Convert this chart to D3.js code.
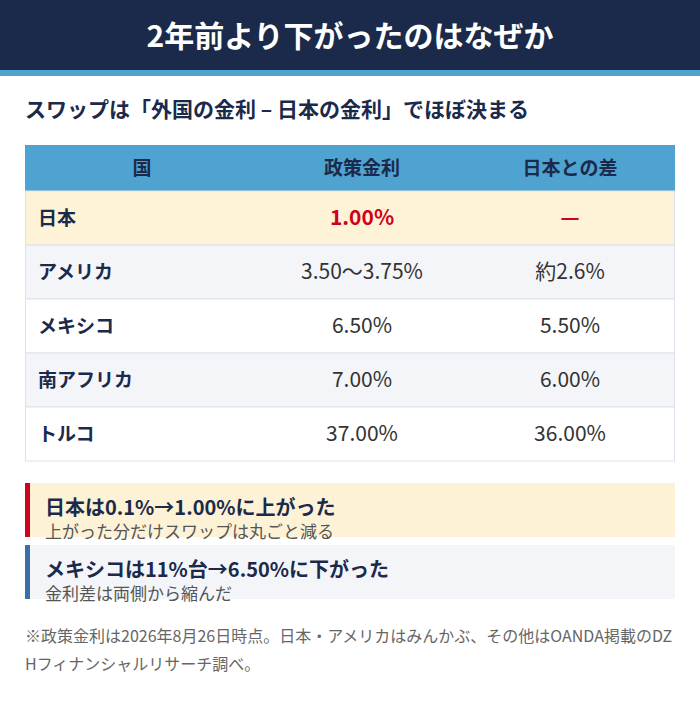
<!DOCTYPE html>
<html><head><meta charset="utf-8">
<script src="https://cdn.jsdelivr.net/npm/d3@7"></script>
<style>body{margin:0;background:#fff}svg{display:block;font-family:"Noto Sans CJK JP","Noto Sans",sans-serif}</style>
</head><body>
<svg id="c" width="700" height="715"></svg>
<script>
const columns = ['国', '政策金利', '日本との差'];
const countries = ['日本', 'アメリカ', 'メキシコ', '南アフリカ', 'トルコ'];
const rates = ['1.00%', '3.50〜3.75%', '6.50%', '7.00%', '37.00%'];
const diffs = ['—', '約2.6%', '5.50%', '6.00%', '36.00%'];
const notes = [
  { title: '日本は0.1%→1.00%に上がった', sub: '上がった分だけスワップは丸ごと減る', bg: '#fdf2d5', bar: '#d0021b' },
  { title: 'メキシコは11%台→6.50%に下がった', sub: '金利差は両側から縮んだ', bg: '#f3f5f9', bar: '#3a6ea5' },
];
const footnote = ['※政策金利は2026年8月26日時点。日本・アメリカはみんかぶ、その他はOANDA掲載のDZ', 'Hフィナンシャルリサーチ調べ。'];

const navy = '#1b2a4a';
const svg = d3.select('#c');

// header
svg.append('rect').attr('width', 700).attr('height', 70).attr('fill', navy);
svg.append('rect').attr('y', 70).attr('width', 700).attr('height', 6).attr('fill', '#4fa3d1');
svg.append('text').attr('x', 350).attr('y', 47).attr('text-anchor', 'middle')
  .attr('fill', '#fff').attr('font-size', 30).attr('font-weight', 700).text('2年前より下がったのはなぜか');
svg.append('text').attr('x', 25).attr('y', 117).attr('fill', navy)
  .attr('font-size', 21).attr('font-weight', 700).text('スワップは「外国の金利 – 日本の金利」でほぼ決まる');

// table
const x0 = 25, x1 = 675;
const colX = d3.scaleOrdinal().domain(columns).range([142, 362, 570]);
const rowY = d3.scaleBand().domain(d3.range(countries.length)).range([191, 461]);

svg.append('rect').attr('x', x0).attr('y', 145).attr('width', x1 - x0).attr('height', 46).attr('fill', '#4fa3d1');
svg.selectAll('.th').data(columns).join('text')
  .attr('x', d => colX(d)).attr('y', 175).attr('text-anchor', 'middle')
  .attr('fill', navy).attr('font-size', 19).attr('font-weight', 700).text(d => d);

const rows = svg.selectAll('.row').data(countries).join('g')
  .attr('transform', (d, i) => `translate(0,${rowY(i)})`);
rows.append('rect').attr('x', x0 + 0.5).attr('width', x1 - x0 - 1).attr('height', rowY.bandwidth())
  .attr('fill', (d, i) => i === 0 ? '#fef3d6' : (i % 2 ? '#f3f5f9' : '#fff'))
  .attr('stroke', '#dde2ea');
const mid = rowY.bandwidth() / 2 + 7;
rows.append('text').attr('x', 38).attr('y', mid).attr('fill', navy)
  .attr('font-size', 19).attr('font-weight', 700).text(d => d);
rows.append('text').attr('x', colX(columns[1])).attr('y', mid).attr('text-anchor', 'middle')
  .attr('font-size', 21).attr('font-weight', (d, i) => i === 0 ? 700 : 400)
  .attr('fill', (d, i) => i === 0 ? '#d0021b' : '#333').text((d, i) => rates[i]);
rows.append('text').attr('x', colX(columns[2])).attr('y', mid).attr('text-anchor', 'middle')
  .attr('font-size', 21).attr('font-weight', (d, i) => i === 0 ? 700 : 400)
  .attr('fill', (d, i) => i === 0 ? '#d0021b' : '#333').text((d, i) => diffs[i]);

// callouts
const noteY = d3.scaleBand().domain(d3.range(notes.length)).range([483, 599]).paddingInner(0.13);
const ng = svg.selectAll('.note').data(notes).join('g')
  .attr('transform', (d, i) => `translate(0,${noteY(i)})`);
ng.append('rect').attr('x', x0).attr('width', x1 - x0).attr('height', noteY.bandwidth()).attr('fill', d => d.bg);
ng.append('rect').attr('x', x0).attr('width', 5).attr('height', noteY.bandwidth()).attr('fill', d => d.bar);
ng.append('text').attr('x', 45).attr('y', 32).attr('fill', navy)
  .attr('font-size', 20).attr('font-weight', 700).text(d => d.title);
ng.append('text').attr('x', 45).attr('y', 55).attr('fill', '#555')
  .attr('font-size', 17).text(d => d.sub);

svg.selectAll('.fn').data(footnote).join('text')
  .attr('x', 25).attr('y', (d, i) => 642 + i * 28).attr('fill', '#666')
  .attr('font-size', 16).text(d => d);
</script>
</body></html>
